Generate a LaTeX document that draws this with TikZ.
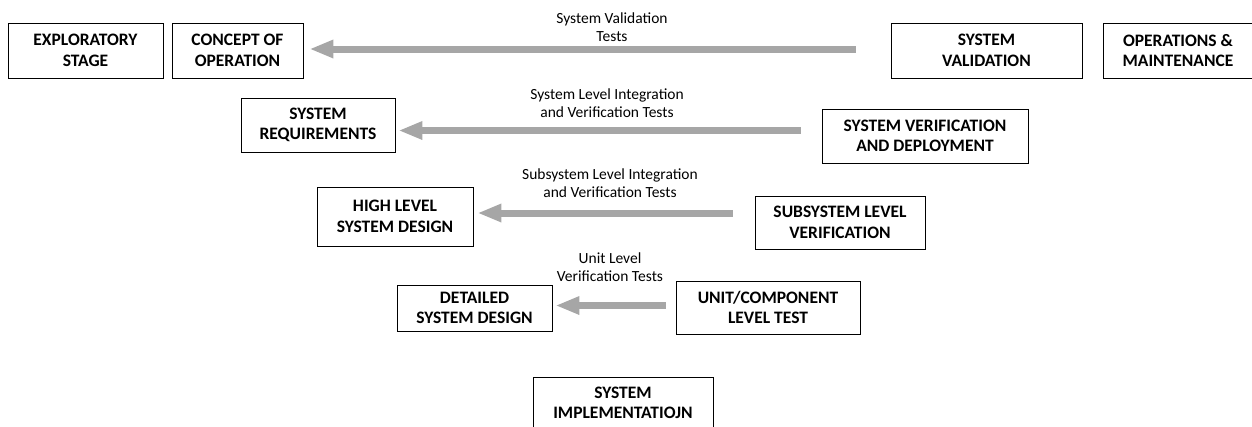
\documentclass[tikz,border=0pt]{standalone}
\usepackage{fontspec}
\setmainfont{Carlito}
\usetikzlibrary{arrows.meta,calc}
\definecolor{arrowgray}{RGB}{166,166,166}
\tikzset{
  stage/.style={draw=black, line width=0.9pt, inner sep=0pt, align=center,
    font=\fontsize{17.5}{20.5}\selectfont\bfseries},
  testlabel/.style={align=center, inner sep=0pt, font=\fontsize{15.5}{17.5}\selectfont},
  flow/.style={draw=arrowgray, line width=7pt,
    -{Triangle[length=24pt,width=17pt]}},
}
\begin{document}
\begin{tikzpicture}[x=1pt,y=-1pt]
\useasboundingbox (0,0) rectangle (1252,426);
\node[stage, minimum width=155pt, minimum height=55pt] (expl) at (85.5,50.5) {EXPLORATORY\\STAGE};
\node[stage, minimum width=131pt, minimum height=55pt] (conc) at (237.5,50.5) {CONCEPT OF\\OPERATION};
\node[stage, minimum width=191pt, minimum height=55pt] (sval) at (986.5,50.5) {SYSTEM\\VALIDATION};
\node[stage, minimum width=150pt, minimum height=55pt] (ops) at (1178,50.5) {OPERATIONS \&\\MAINTENANCE};
\node[stage, minimum width=154pt, minimum height=54pt] (sreq) at (318,125) {SYSTEM\\REQUIREMENTS};
\node[stage, minimum width=206pt, minimum height=54pt] (sver) at (925,136) {SYSTEM VERIFICATION\\AND DEPLOYMENT};
\node[stage, minimum width=156pt, minimum height=59pt] (hld) at (395,216.5) {HIGH LEVEL\\SYSTEM DESIGN};
\node[stage, minimum width=170pt, minimum height=53pt] (ssv) at (840,222.5) {SUBSYSTEM LEVEL\\VERIFICATION};
\node[stage, minimum width=155pt, minimum height=46pt] (dsd) at (474.5,308) {DETAILED\\SYSTEM DESIGN};
\node[stage, minimum width=184pt, minimum height=53pt] (unit) at (768,307.5) {UNIT/COMPONENT\\LEVEL TEST};
\node[stage, minimum width=180pt, minimum height=52pt] (impl) at (623,403) {SYSTEM\\IMPLEMENTATIOJN};

\draw[flow] ($(sval.west)+(-35,-1.5)$) -- ($(conc.east)+(6,-1.5)$);
\draw[flow] ($(sver.west)+(-21,-5.5)$) -- ($(sreq.east)+(3,5.5)$);
\draw[flow] ($(ssv.west)+(-22,-9.5)$) -- ($(hld.east)+(4,-3.5)$);
\draw[flow] ($(unit.west)+(-10,-2)$) -- ($(dsd.east)+(3,-2.5)$);

\node[testlabel] (l1) at (612,27) {System Validation\\Tests};
\node[testlabel] (l2) at (607,103) {System Level Integration\\and Verification Tests};
\node[testlabel] (l3) at (610,183) {Subsystem Level Integration\\and Verification Tests};
\node[testlabel] (l4) at (610,267) {Unit Level\\Verification Tests};
\end{tikzpicture}
\end{document}
